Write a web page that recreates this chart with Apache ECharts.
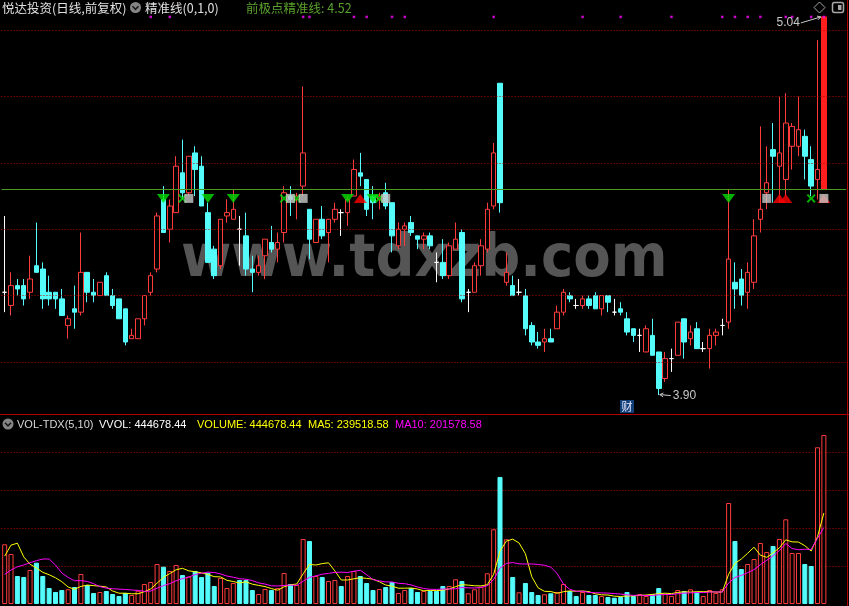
<!DOCTYPE html>
<html><head><meta charset="utf-8">
<script src="https://cdn.jsdelivr.net/npm/echarts@6/dist/echarts.min.js"></script>
<style>html,body{margin:0;padding:0;background:#000;}#c{width:849px;height:606px;}</style>
</head><body><div id="c"></div>
<script>
// ---------- data ----------
const open = [4.21,4.17,4.23,4.23,4.21,4.29,4.28,4.21,4.21,4.19,
4.11,4.16,4.15,4.27,4.21,4.20,4.26,4.20,4.19,4.16,
4.07,4.07,4.13,4.21,4.28,4.49,4.40,4.45,4.57,4.51,
4.63,4.59,4.45,4.34,4.29,4.44,4.43,4.40,4.38,4.28,
4.27,4.32,4.36,4.34,4.39,4.50,4.49,4.53,4.46,4.36,
4.43,4.39,4.43,4.45,4.45,4.50,4.57,4.55,4.50,4.49,
4.51,4.48,4.35,4.40,4.42,4.38,4.37,4.38,4.30,4.30,
4.26,4.34,4.39,4.21,4.21,4.29,4.34,4.47,4.84,4.24,
4.23,4.21,4.20,4.11,4.06,4.06,4.07,4.10,4.15,4.20,
4.17,4.17,4.19,4.20,4.16,4.20,4.15,4.16,4.13,4.10,
4.08,4.03,4.08,4.03,3.95,4.01,4.02,4.13,4.07,4.10,
4.04,4.04,4.08,4.11,4.12,4.24,4.25,4.21,4.24,4.43,
4.51,4.64,4.59,4.55,4.65,4.65,4.68,4.61,4.55,4.52];
const close = [4.21,4.23,4.22,4.19,4.25,4.27,4.19,4.19,4.19,4.14,
4.13,4.15,4.27,4.21,4.20,4.24,4.20,4.17,4.13,4.06,
4.08,4.13,4.20,4.26,4.44,4.39,4.47,4.59,4.51,4.62,
4.58,4.47,4.30,4.26,4.43,4.45,4.46,4.40,4.28,4.27,
4.29,4.37,4.34,4.36,4.51,4.49,4.50,4.63,4.37,4.43,
4.38,4.43,4.46,4.45,4.49,4.58,4.56,4.46,4.48,4.50,
4.47,4.38,4.40,4.41,4.39,4.37,4.38,4.35,4.30,4.26,
4.35,4.37,4.19,4.21,4.29,4.35,4.46,4.63,4.48,4.27,
4.20,4.21,4.10,4.06,4.05,4.07,4.06,4.15,4.21,4.19,
4.17,4.19,4.17,4.16,4.20,4.18,4.15,4.15,4.09,4.08,
4.08,4.10,4.02,3.92,4.01,4.01,4.12,4.06,4.09,4.04,
4.04,4.08,4.09,4.11,4.31,4.22,4.20,4.27,4.38,4.46,
4.54,4.62,4.63,4.72,4.71,4.70,4.62,4.53,4.58,5.04];
const high = [4.44,4.27,4.25,4.25,4.32,4.42,4.30,4.26,4.21,4.22,
4.14,4.23,4.39,4.27,4.25,4.24,4.27,4.22,4.19,4.16,
4.10,4.13,4.20,4.27,4.45,4.53,4.49,4.62,4.67,4.62,
4.65,4.62,4.48,4.35,4.43,4.49,4.52,4.44,4.45,4.32,
4.32,4.37,4.41,4.39,4.53,4.53,4.51,4.83,4.46,4.43,
4.47,4.43,4.48,4.46,4.50,4.61,4.63,4.55,4.53,4.51,
4.54,4.48,4.42,4.42,4.44,4.38,4.39,4.39,4.33,4.37,
4.36,4.42,4.40,4.22,4.30,4.37,4.48,4.66,4.84,4.33,
4.26,4.25,4.22,4.12,4.09,4.10,4.10,4.17,4.22,4.21,
4.19,4.20,4.20,4.21,4.20,4.20,4.19,4.18,4.15,4.10,
4.10,4.11,4.13,4.03,4.03,4.04,4.12,4.13,4.11,4.12,
4.06,4.10,4.10,4.13,4.52,4.30,4.28,4.30,4.43,4.71,
4.65,4.72,4.80,4.81,4.72,4.80,4.70,4.65,4.97,5.04];
const low = [4.15,4.14,4.20,4.17,4.19,4.27,4.16,4.17,4.16,4.14,
4.07,4.10,4.14,4.18,4.18,4.20,4.20,4.16,4.13,4.05,
4.07,4.07,4.11,4.20,4.27,4.39,4.36,4.45,4.49,4.50,
4.50,4.47,4.30,4.25,4.28,4.42,4.43,4.29,4.26,4.21,
4.26,4.25,4.33,4.30,4.36,4.44,4.43,4.50,4.31,4.36,
4.37,4.30,4.42,4.38,4.41,4.50,4.53,4.44,4.43,4.46,
4.46,4.33,4.34,4.35,4.38,4.34,4.34,4.34,4.24,4.25,
4.25,4.34,4.18,4.15,4.21,4.26,4.33,4.46,4.45,4.23,
4.20,4.20,4.08,4.05,4.04,4.03,4.06,4.10,4.14,4.18,
4.16,4.16,4.16,4.16,4.14,4.15,4.14,4.14,4.08,4.06,
4.03,4.03,4.02,3.90,3.94,3.97,4.02,4.01,4.05,4.04,
4.03,3.98,4.05,4.08,4.10,4.16,4.17,4.16,4.22,4.39,
4.46,4.48,4.48,4.50,4.58,4.62,4.55,4.50,4.49,4.52];
const volume = [157100,131600,73700,71100,89500,108700,73700,42100,31600,36800,
38700,44700,79000,50000,29000,31600,34200,26300,21000,29000,
23700,35000,52600,57900,105300,98200,86900,102600,76300,71900,
86900,71100,82400,47400,68400,42100,55300,63200,63200,36800,
26300,39500,36800,42100,81600,52600,50000,171000,165800,73700,
71100,60500,63200,47400,73700,86900,73700,55300,36800,39500,
44700,57900,29000,36800,42100,31600,34200,34200,34200,47400,
47400,65000,60500,28200,38700,45500,80800,196600,334300,170300,
71100,30800,55300,31600,23700,25500,28200,31600,52600,34200,
21000,31600,23700,23700,21000,18400,16600,18400,31600,21000,
26300,21000,26300,42100,26300,21000,36800,34200,38700,31600,
21000,36800,29000,38700,265800,165800,92100,105300,118400,160600,
136900,152700,171000,222900,134200,134200,105300,100000,412400,444678];
// moving-average values at the start, whose windows reach before the first bar
const ma5Head = [126000,155000,160000,124000];
const ma10Head = [78000,89500,98000,102600,108700,114000,118400,118400,102600];

const preciseLine = 4.52;
const priceGridLevels = [4.0,4.2,4.4,4.6,4.8,5.0];
const downTriangles = [25,32,36,54,58,114];
const upTriangles = [56,122,123,129];
const crossMarks = [28,44,46,59,127];
const squareMarks = [29,45,47,60,120,129];
const topDots = [23,26,47,48,55,57,61,63,77,91,97,105,113,115,117,119,123,124,127,129];
const dotLevel = 5.04;
const eventBar = 98;

const titleMain = '悦达投资(日线,前复权)';
const titleInd = '精准线(0,1,0)';
const titleLine = '前极点精准线: 4.52';
const volTitles = [
  ['VOL-TDX(5,10)', '#d8d8d8', 17],
  ['VVOL: 444678.44', '#ffffff', 99],
  ['VOLUME: 444678.44', '#ffff00', 197],
  ['MA5: 239518.58', '#ffff00', 308],
  ['MA10: 201578.58', '#ff00ff', 395]
];

// ---------- build ----------
const N = open.length;
const categories = open.map((_, i) => 'd' + (i + 1)).concat(['p1','p2','p3']);
const RED = '#ff3c3c', CYAN = '#54fcfc';
function isUp(i) {
  if (close[i] > open[i]) return true;
  if (close[i] < open[i]) return false;
  return i === 0 ? true : close[i] >= close[i - 1];
}
const candleData = open.map((o, i) => {
  const item = { value: [o, close[i], low[i], high[i]] };
  if (o === close[i]) {
    item.itemStyle = { color: '#fff', color0: '#fff', borderColor: '#fff', borderColor0: '#fff', borderColorDoji: '#fff' };
  } else if (i === N - 1) {
    item.itemStyle = { color: '#ff1e1e', borderColor: '#ff1e1e' };
  }
  return item;
});
const volData = volume.map((v, i) => {
  const up = isUp(i);
  return { value: v, itemStyle: { color: up ? '#000' : CYAN, borderColor: up ? RED : CYAN, borderWidth: 1 } };
});
function movingAvg(n, head) {
  return volume.map((v, i) => {
    if (i < head.length) return head[i];
    let s = 0; for (let k = i - n + 1; k <= i; k++) s += volume[k];
    return s / n;
  });
}
const ma5 = movingAvg(5, ma5Head), ma10 = movingAvg(10, ma10Head);

function markers(idxs, symbol, size, color, rotate) {
  return { type: 'scatter', xAxisIndex: 0, yAxisIndex: 0, silent: true, z: 6,
    data: idxs.map(i => [i, preciseLine]), symbol, symbolSize: size, symbolRotate: rotate || 0,
    symbolOffset: [0, 9], itemStyle: { color } };
}
const crossPath = 'path://M0,1.6L1.6,0L5,3.4L8.4,0L10,1.6L6.6,5L10,8.4L8.4,10L5,6.6L1.6,10L0,8.4L3.4,5Z';

const gridL = 1.5, gridR = 2.9;
const chart = echarts.init(document.getElementById('c'), null, { renderer: 'canvas' });
const option = {
  backgroundColor: '#000',
  animation: false,
  grid: [
    { left: gridL, right: gridR, top: 0, height: 414 },
    { left: gridL, right: gridR, top: 414, height: 190 }
  ],
  xAxis: [
    { type: 'category', data: categories, gridIndex: 0, show: false, boundaryGap: true },
    { type: 'category', data: categories, gridIndex: 1, show: false, boundaryGap: true }
  ],
  yAxis: [
    { type: 'value', gridIndex: 0, min: 3.843, max: 5.091, show: false },
    { type: 'value', gridIndex: 1, min: 0, max: 500000, interval: 100000,
      axisLine: { show: false }, axisTick: { show: false }, axisLabel: { show: false },
      splitLine: { show: true, showMinLine: false, showMaxLine: false, lineStyle: { color: '#b40000', type: [1, 2], width: 1 } } }
  ],
  series: [
    { type: 'candlestick', xAxisIndex: 0, yAxisIndex: 0, barWidth: 5, z: 3,
      itemStyle: { color: '#000', color0: CYAN, borderColor: RED, borderColor0: CYAN, borderWidth: 1 },
      data: candleData,
      markLine: { silent: true, symbol: ['none', 'none'], label: { show: false }, animation: false,
        data: priceGridLevels.map(v => ({ yAxis: v, lineStyle: { color: '#b40000', type: [1, 2], width: 1 } }))
          .concat([{ yAxis: preciseLine, lineStyle: { color: '#4a9a20', type: 'solid', width: 1 } }]) }
    },
    markers(downTriangles, 'triangle', [13, 9], '#00e000', 180),
    markers(upTriangles, 'triangle', [13, 9], '#ff0000', 0),
    markers(crossMarks, crossPath, [9, 9], '#00e000', 0),
    markers(squareMarks, 'rect', [9, 9], '#c8c8c8', 0),
    { type: 'scatter', xAxisIndex: 0, yAxisIndex: 0, silent: true, z: 6,
      data: topDots.map(i => [i, dotLevel]), symbol: 'rect', symbolSize: 2.5, itemStyle: { color: '#ff00ff' } },
    { type: 'bar', xAxisIndex: 1, yAxisIndex: 1, barWidth: 5, data: volData, z: 2 },
    { type: 'line', xAxisIndex: 1, yAxisIndex: 1, data: ma5, symbol: 'none', z: 4,
      lineStyle: { color: '#ffff00', width: 1 } },
    { type: 'line', xAxisIndex: 1, yAxisIndex: 1, data: ma10, symbol: 'none', z: 4,
      lineStyle: { color: '#ff00ff', width: 1 } }
  ]
};
chart.setOption(option);

// ---------- annotations ----------
const px = (i, v) => chart.convertToPixel({ xAxisIndex: 0, yAxisIndex: 0 }, [i, v]);
let hiI = 0, loI = 0;
for (let i = 0; i < N; i++) { if (high[i] > high[hiI]) hiI = i; if (low[i] < low[loI]) loI = i; }
const hp = px(hiI, high[hiI]);
const lp = px(loI, low[loI]);
const evx = px(eventBar, 4)[0];
const CJK = '"Noto Sans CJK SC", "Noto Sans", sans-serif';
const LAT = '"Liberation Sans", Arial, sans-serif';
const G = [];
function txt(x, y, text, color, font, align) {
  G.push({ type: 'text', x, y, z: 10, silent: true,
    style: { text, fill: color, font, align: align || 'left', verticalAlign: 'middle' } });
}
function seg(x1, y1, x2, y2, color, w) {
  G.push({ type: 'line', z: 10, silent: true, shape: { x1, y1, x2, y2 }, style: { stroke: color, lineWidth: w || 1 } });
}
function arrow(x0, y0, x1, y1, color) {
  seg(x0, y0, x1, y1, color, 1);
  const a = Math.atan2(y1 - y0, x1 - x0), L = 4;
  seg(x1, y1, x1 - L * Math.cos(a - 0.5), y1 - L * Math.sin(a - 0.5), color, 1);
  seg(x1, y1, x1 - L * Math.cos(a + 0.5), y1 - L * Math.sin(a + 0.5), color, 1);
}
function icon(cx, cy) {
  G.push({ type: 'circle', z: 10, silent: true, shape: { cx, cy, r: 5.5 }, style: { fill: '#858585' } });
  G.push({ type: 'polyline', z: 11, silent: true, shape: { points: [[cx - 3, cy - 1.2], [cx, cy + 1.8], [cx + 3, cy - 1.2]] },
    style: { stroke: '#1a1a1a', lineWidth: 1.6, fill: null } });
}
// watermark (behind series)
G.push({ type: 'text', x: 181, y: 261, z: -1, silent: true, scaleX: 0.94,
  style: { text: 'www.tdxzb.com', fill: '#555555', font: 'bold 58px "DejaVu Sans"', verticalAlign: 'middle' } });
// header
txt(2, 8, titleMain, '#e0e0e0', '12.5px ' + CJK);
icon(135.5, 7.5);
txt(145, 8, titleInd, '#e0e0e0', '12.5px ' + CJK);
txt(246, 8, titleLine, '#5aa02c', '12.5px ' + CJK);
// top-right icons
G.push({ type: 'polygon', z: 10, silent: true, shape: { points: [[819.5, 2], [825, 7.5], [819.5, 13], [814, 7.5]] }, style: { stroke: '#a8a8a8', fill: null, lineWidth: 1 } });
G.push({ type: 'rect', z: 10, silent: true, shape: { x: 832.5, y: 2.5, width: 11, height: 10, r: 2 }, style: { stroke: '#a8a8a8', fill: null, lineWidth: 1.5 } });
G.push({ type: 'rect', z: 10, silent: true, shape: { x: 838, y: 5, width: 3.5, height: 5 }, style: { fill: '#a8a8a8' } });
// high / low labels
arrow(hp[0] - 23, hp[1] + 6, hp[0] - 3, hp[1], '#c8c8c8');
txt(hp[0] - 24, hp[1] + 6, high[hiI].toFixed(2), '#c8c8c8', '12px ' + LAT, 'right');
arrow(lp[0] + 12, lp[1] + 0.5, lp[0] + 1, lp[1] - 0.5, '#c8c8c8');
txt(lp[0] + 14, lp[1] + 1, low[loI].toFixed(2), '#c8c8c8', '12px ' + LAT);
// event box
G.push({ type: 'rect', z: 10, silent: true, shape: { x: evx - 7, y: 400, width: 14, height: 13 }, style: { fill: '#123f78' } });
txt(evx, 406.5, '财', '#e8e8ff', '11px ' + CJK, 'center');
// separators
seg(0, 414.5, 849, 414.5, '#b00000', 1);
seg(847.5, 0, 847.5, 606, '#b00000', 1);
// volume header
icon(8, 424);
volTitles.forEach(t => txt(t[2], 424.5, t[0], t[1], '11px ' + LAT));

chart.setOption({ graphic: { elements: G } });
</script>
</body></html>
